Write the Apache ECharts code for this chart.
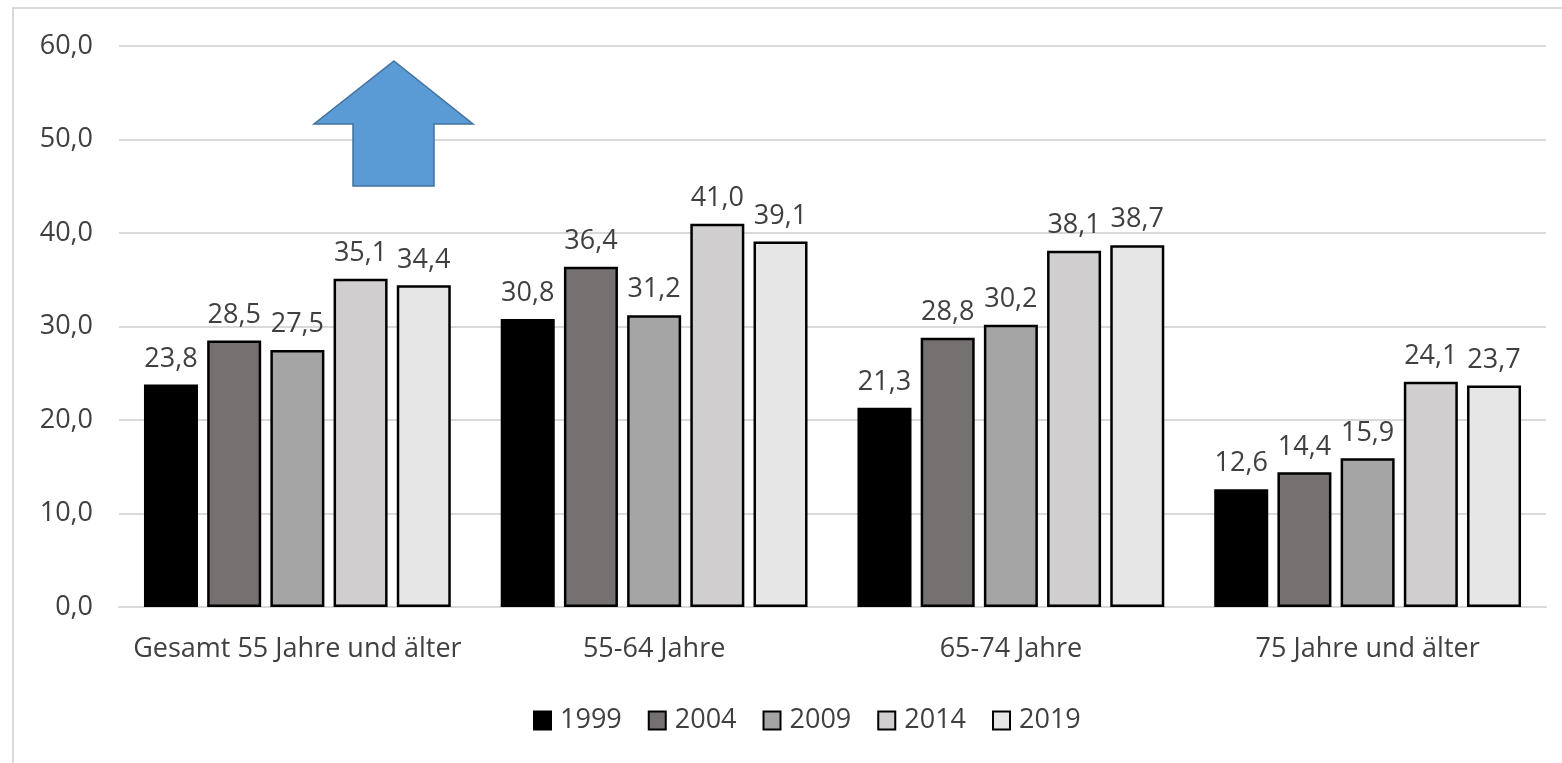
<!DOCTYPE html>
<html>
<head>
<meta charset="utf-8">
<script src="https://cdn.jsdelivr.net/npm/echarts@6/dist/echarts.min.js"></script>
<style>
  html, body { margin: 0; padding: 0; background: #ffffff; }
  #chart { width: 1562px; height: 763px; }
</style>
</head>
<body>
<div id="chart"></div>
<script>
// Age groups on the category axis
const categories = ['Gesamt 55 Jahre und älter', '55-64 Jahre', '65-74 Jahre', '75 Jahre und älter'];

// One series per survey year
const years = ['1999', '2004', '2009', '2014', '2019'];
const values1999 = [23.8, 30.8, 21.3, 12.6];
const values2004 = [28.5, 36.4, 28.8, 14.4];
const values2009 = [27.5, 31.2, 30.2, 15.9];
const values2014 = [35.1, 41.0, 38.1, 24.1];
const values2019 = [34.4, 39.1, 38.7, 23.7];
const seriesValues = [values1999, values2004, values2009, values2014, values2019];

// Grey ramp for the years
const yearColors = ['#000000', '#767171', '#a5a5a5', '#d0cece', '#e7e6e6'];

const FONT = 'Open Sans';
const TEXT = '#404040';
const SIZE = 27;

const fmt = v => v.toFixed(1).replace('.', ',');

const chart = echarts.init(document.getElementById('chart'), null, { renderer: 'canvas' });

chart.setOption({
  animation: false,
  backgroundColor: '#ffffff',
  textStyle: { fontFamily: FONT },
  grid: { left: 119, right: 16, top: 46, bottom: 156, containLabel: false },
  legend: {
    data: years,
    bottom: 24,
    left: 528,
    itemWidth: 17,
    itemHeight: 18,
    itemGap: 26,
    icon: 'rect',
    textStyle: { fontFamily: FONT, fontSize: SIZE, color: TEXT, padding: [0, 0, 0, 4] }
  },
  xAxis: {
    type: 'category',
    data: categories,
    axisLine: { show: true, lineStyle: { color: '#d9d9d9', width: 2 } },
    axisTick: { show: false },
    axisLabel: { interval: 0, fontFamily: FONT, fontSize: SIZE, color: TEXT, margin: 29 }
  },
  yAxis: {
    type: 'value',
    min: 0,
    max: 60,
    interval: 10,
    axisLine: { show: false },
    axisTick: { show: false },
    splitLine: { lineStyle: { color: '#d9d9d9', width: 2 } },
    axisLabel: { fontFamily: FONT, fontSize: SIZE, color: TEXT, margin: 26, formatter: v => fmt(v) }
  },
  series: years.map((y, i) => ({
    name: y,
    type: 'bar',
    data: seriesValues[i],
    barGap: '17%',
    barCategoryGap: '14%',
    itemStyle: { color: yearColors[i], borderColor: '#000000', borderWidth: 2.5 },
    label: {
      show: true,
      position: 'top',
      distance: 12,
      fontFamily: FONT,
      fontSize: SIZE,
      color: TEXT,
      formatter: p => fmt(p.value)
    }
  })),
  graphic: [
    {
      // outer chart frame
      type: 'rect',
      silent: true,
      shape: { x: 13, y: 8, width: 1600, height: 800 },
      style: { fill: 'none', stroke: '#d9d9d9', lineWidth: 2 },
      z: -1
    },
    {
      // upward arrow annotation
      type: 'polygon',
      silent: true,
      shape: {
        points: [[394, 61], [473, 124], [434, 124], [434, 186], [353, 186], [353, 124], [314, 124]]
      },
      style: { fill: '#5b9bd5', stroke: '#41719c', lineWidth: 1.5 },
      z: 10
    }
  ]
});
</script>
</body>
</html>
